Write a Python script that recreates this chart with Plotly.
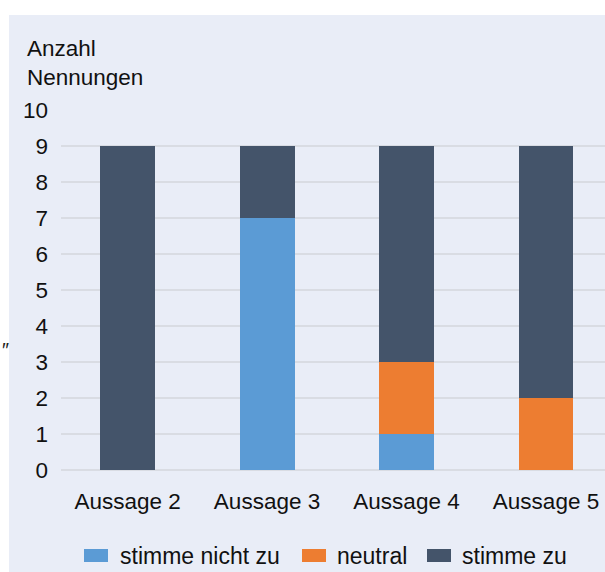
import plotly.graph_objects as go

categories = ["Aussage 2", "Aussage 3", "Aussage 4", "Aussage 5"]
stimme_nicht_zu = [0, 7, 1, 0]
neutral = [0, 0, 2, 2]
stimme_zu = [9, 2, 6, 7]
y_ticks = list(range(0, 11))

series_names = ["stimme nicht zu", "neutral", "stimme zu"]
colors = ["#5B9BD5", "#ED7D31", "#44546A"]
series_vals = [stimme_nicht_zu, neutral, stimme_zu]

W, H = 605, 572
L, R, T, B = 61, 0, 110, 102
PW, PH = W - L - R, H - T - B
BG = "#E9EDF7"
FONT = "Liberation Sans, Arial, sans-serif"
FS = 22.5
TXT = "#111111"

def px(x):
    return (x - L) / PW

def py(y):
    return (H - B - y) / PH

fig = go.Figure()
for name, vals, col in zip(series_names, series_vals, colors):
    fig.add_trace(go.Bar(
        x=list(range(len(categories))), y=vals, name=name,
        marker=dict(color=col, line=dict(width=0)),
        width=0.394, showlegend=False,
    ))

shapes = [
    dict(type="rect", xref="paper", yref="paper", x0=px(0), x1=px(W), y0=py(0), y1=py(15),
         fillcolor="white", line=dict(width=0), layer="below"),
    dict(type="rect", xref="paper", yref="paper", x0=px(0), x1=px(9), y0=py(0), y1=py(H),
         fillcolor="white", line=dict(width=0), layer="below"),
]
annotations = [
    dict(text="Anzahl<br>Nennungen", xref="paper", yref="paper", x=px(25), y=py(34),
         xanchor="left", yanchor="top", align="left", showarrow=False,
         font=dict(family=FONT, size=FS, color=TXT)),
    dict(text="<i>″</i>", xref="paper", yref="paper", x=px(5), y=py(350),
         xanchor="center", yanchor="middle", showarrow=False,
         font=dict(family=FONT, size=20, color="#222222")),
]

# custom legend
legend_items = [
    (84, 118, series_names[0], colors[0]),
    (302, 335, series_names[1], colors[1]),
    (427, 460, series_names[2], colors[2]),
]
for rx, tx, name, col in legend_items:
    shapes.append(dict(type="rect", xref="paper", yref="paper",
                       x0=px(rx), x1=px(rx + 24), y0=py(549), y1=py(562),
                       fillcolor=col, line=dict(width=0)))
    annotations.append(dict(text=name, xref="paper", yref="paper", x=px(tx), y=py(555.5),
                            xanchor="left", yanchor="middle", showarrow=False,
                            font=dict(family=FONT, size=23, color=TXT)))

fig.update_layout(
    width=W, height=H,
    margin=dict(l=L, r=R, t=T, b=B),
    barmode="stack",
    paper_bgcolor=BG, plot_bgcolor=BG,
    font=dict(family=FONT, size=FS, color=TXT),
    shapes=shapes, annotations=annotations,
    showlegend=False,
    xaxis=dict(
        range=[-0.477, 3.423], tickmode="array",
        tickvals=list(range(len(categories))), ticktext=categories,
        showgrid=False, zeroline=False, showline=False, ticks="",
        ticklabelstandoff=15, fixedrange=True,
    ),
    yaxis=dict(
        range=[0, 10], tickmode="array", tickvals=y_ticks,
        ticktext=[str(v) for v in y_ticks],
        showgrid=True, gridcolor="#D9DCE3", gridwidth=2,
        zeroline=True, zerolinecolor="#D9DCE3", zerolinewidth=2,
        showline=False, ticks="", ticklabelstandoff=12, fixedrange=True,
    ),
)

fig.write_html(
    "out.html",
    config={"displayModeBar": False},
    post_script="document.body.style.margin='0';document.body.style.overflow='hidden';",
)
